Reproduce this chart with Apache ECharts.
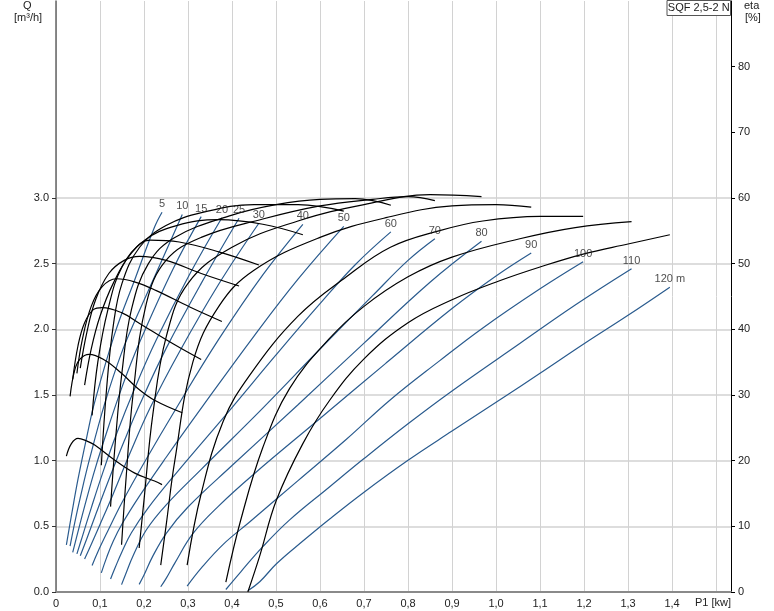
<!DOCTYPE html>
<html><head><meta charset="utf-8">
<script src="https://cdn.jsdelivr.net/npm/echarts@6/dist/echarts.min.js"></script>
<style>html,body{margin:0;padding:0;background:#fff}#c{width:774px;height:611px}</style>
</head><body><div id="c"></div>
<script>
// Heads (m) and their labels
const HEADS = [5,10,15,20,25,30,40,50,60,70,80,90,100,110,120];
const HEAD_LABELS = ['5','10','15','20','25','30','40','50','60','70','80','90','100','110','120 m'];

// Flow Q [m3/h] vs P1 [kW] for each head (blue curves)
const Q_5   = [[0.0236,0.359],[0.035,0.581],[0.05,0.859],[0.07,1.182],[0.088,1.447],[0.133,1.962],[0.179,2.378],[0.224,2.779],[0.241,2.892]];
const Q_10  = [[0.032,0.350],[0.0425,0.527],[0.055,0.717],[0.075,0.996],[0.111,1.438],[0.149,1.821],[0.186,2.116],[0.224,2.400],[0.287,2.875]];
const Q_15  = [[0.038,0.301],[0.05,0.459],[0.065,0.652],[0.085,0.894],[0.105,1.112],[0.15,1.560],[0.19,1.901],[0.266,2.460],[0.33,2.858]];
const Q_20  = [[0.0475,0.290],[0.06,0.424],[0.08,0.639],[0.105,0.896],[0.137,1.199],[0.18,1.559],[0.228,1.920],[0.304,2.421],[0.377,2.850]];
const Q_25  = [[0.0552,0.276],[0.07,0.406],[0.09,0.588],[0.12,0.854],[0.155,1.149],[0.19,1.425],[0.25,1.853],[0.33,2.350],[0.416,2.846]];
const Q_30  = [[0.065,0.251],[0.08,0.362],[0.1,0.514],[0.13,0.747],[0.17,1.071],[0.214,1.403],[0.28,1.826],[0.37,2.345],[0.461,2.808]];
const Q_40  = [[0.082,0.202],[0.095,0.305],[0.118,0.466],[0.15,0.681],[0.2,0.982],[0.274,1.403],[0.37,1.925],[0.47,2.415],[0.561,2.800]];
const Q_50  = [[0.103,0.146],[0.115,0.262],[0.13,0.387],[0.15,0.518],[0.19,0.732],[0.25,1.024],[0.333,1.413],[0.45,1.949],[0.55,2.382],[0.654,2.784]];
const Q_60  = [[0.124,0.099],[0.135,0.190],[0.15,0.307],[0.1714,0.451],[0.21,0.642],[0.27,0.892],[0.4,1.404],[0.5,1.805],[0.6,2.195],[0.68,2.492],[0.761,2.742]];
const Q_70  = [[0.149,0.056],[0.16,0.151],[0.175,0.275],[0.2055,0.474],[0.25,0.662],[0.33,0.934],[0.47,1.400],[0.6,1.850],[0.72,2.258],[0.8,2.525],[0.861,2.690]];
const Q_80  = [[0.189,0.058],[0.2,0.129],[0.22,0.273],[0.251,0.449],[0.3,0.647],[0.4,0.963],[0.55,1.426],[0.7,1.895],[0.85,2.359],[0.967,2.671]];
const Q_90  = [[0.238,0.040],[0.25,0.102],[0.27,0.220],[0.311,0.444],[0.37,0.656],[0.45,0.899],[0.6,1.321],[0.75,1.743],[0.9,2.158],[1.0,2.406],[1.08,2.581]];
const Q_100 = [[0.298,0.045],[0.33,0.182],[0.38,0.363],[0.44,0.533],[0.55,0.848],[0.66,1.163],[0.76,1.464],[0.87,1.756],[0.97,2.011],[1.1,2.309],[1.198,2.515]];
const Q_110 = [[0.386,0.019],[0.42,0.154],[0.47,0.345],[0.531,0.549],[0.62,0.796],[0.7,1.016],[0.8,1.281],[0.9,1.531],[1.054,1.892],[1.18,2.185],[1.308,2.461]];
const Q_120 = [[0.436,0.010],[0.463,0.078],[0.501,0.215],[0.561,0.388],[0.622,0.556],[0.7,0.760],[0.8,1.003],[0.9,1.225],[1.008,1.461],[1.1,1.665],[1.2,1.890],[1.3,2.107],[1.395,2.321]];

// Efficiency eta [%] vs P1 [kW] for each head (black curves)
const ETA_5   = [[0.0236,20.7],[0.035,22.6],[0.05,23.4],[0.07,23.0],[0.088,22.4],[0.133,20.1],[0.179,18.1],[0.224,16.9],[0.241,16.35]];
const ETA_10  = [[0.032,29.8],[0.0425,33.8],[0.055,35.5],[0.075,36.2],[0.111,35.3],[0.149,33.3],[0.186,31.0],[0.224,29.2],[0.287,27.3]];
const ETA_15  = [[0.038,32.4],[0.05,37.5],[0.065,41],[0.085,43],[0.105,43.3],[0.15,42.5],[0.19,40.9],[0.266,37.8],[0.33,35.4]];
const ETA_20  = [[0.0475,33.3],[0.06,38.5],[0.08,43.5],[0.105,46.5],[0.137,47.7],[0.18,47.2],[0.228,45.9],[0.304,43.4],[0.377,41.2]];
const ETA_25  = [[0.0552,34.1],[0.07,39.5],[0.09,44.5],[0.12,48.5],[0.155,50.5],[0.19,51.1],[0.25,50.5],[0.33,48.5],[0.416,46.6]];
const ETA_30  = [[0.065,31.5],[0.08,37],[0.1,42],[0.13,47],[0.17,51.5],[0.214,53.6],[0.28,53.3],[0.37,51.8],[0.461,49.8]];
const ETA_40  = [[0.082,26.9],[0.095,35],[0.118,43],[0.15,49.5],[0.2,53.5],[0.274,55.8],[0.37,56.7],[0.47,56.0],[0.561,54.4]];
const ETA_50  = [[0.103,19.3],[0.115,31],[0.13,40.5],[0.15,47],[0.19,52.5],[0.25,55.8],[0.333,57.8],[0.45,59.0],[0.55,59.0],[0.654,58.0]];
const ETA_60  = [[0.124,13],[0.135,23],[0.15,33.5],[0.1714,43],[0.21,50],[0.27,54],[0.4,57.4],[0.5,59.0],[0.6,59.8],[0.68,59.9],[0.761,58.9]];
const ETA_70  = [[0.149,7.2],[0.16,18],[0.175,30],[0.2055,44],[0.25,50.5],[0.33,54],[0.47,56.8],[0.6,58.8],[0.72,59.8],[0.8,60.2],[0.861,59.6]];
const ETA_80  = [[0.189,6.7],[0.2,14],[0.22,27],[0.251,39],[0.3,47],[0.4,52.5],[0.55,56.5],[0.7,59],[0.85,60.5],[0.967,60.2]];
const ETA_90  = [[0.238,4.1],[0.25,10],[0.27,20],[0.311,35],[0.37,43.5],[0.45,49],[0.6,54],[0.75,57],[0.9,58.8],[1.0,59],[1.08,58.6]];
const ETA_100 = [[0.298,4.1],[0.33,15],[0.38,26],[0.44,33],[0.55,42],[0.66,48],[0.76,52.5],[0.87,55],[0.97,56.5],[1.1,57.2],[1.198,57.2]];
const ETA_110 = [[0.386,1.5],[0.42,11],[0.47,22],[0.531,31],[0.62,38.5],[0.7,43.5],[0.8,48],[0.9,51],[1.054,53.8],[1.18,55.5],[1.308,56.4]];
const ETA_120 = [[0.436,0],[0.463,5.5],[0.501,14],[0.561,22.6],[0.622,29.2],[0.7,35.5],[0.8,41],[0.9,44.5],[1.008,47.4],[1.1,49.5],[1.2,51.5],[1.3,53],[1.395,54.4]];

// Tick labels
const X_TICKS = [0,0.1,0.2,0.3,0.4,0.5,0.6,0.7,0.8,0.9,1.0,1.1,1.2,1.3,1.4];
const Q_TICKS = [0,0.5,1.0,1.5,2.0,2.5,3.0];
const ETA_TICKS = [0,10,20,30,40,50,60,70,80];

const FLOW = [Q_5,Q_10,Q_15,Q_20,Q_25,Q_30,Q_40,Q_50,Q_60,Q_70,Q_80,Q_90,Q_100,Q_110,Q_120];
const EFF  = [ETA_5,ETA_10,ETA_15,ETA_20,ETA_25,ETA_30,ETA_40,ETA_50,ETA_60,ETA_70,ETA_80,ETA_90,ETA_100,ETA_110,ETA_120];

const FONT = 'Liberation Sans, Arial, sans-serif';
const BLUE = '#2a5b8e';
const series = [];
EFF.forEach((d,i)=>series.push({
  type:'line', name:'eta '+HEADS[i], yAxisIndex:1, data:d, smooth:0.4,
  showSymbol:false, symbol:'none', silent:true,
  lineStyle:{color:'#000', width:1.2}, z:3
}));
FLOW.forEach((d,i)=>series.push({
  type:'line', name:'Q '+HEADS[i], yAxisIndex:0, data:d, smooth:0.4,
  showSymbol:false, symbol:'none', silent:true,
  lineStyle:{color:BLUE, width:1.2}, z:2
}));
series.push({
  type:'scatter', yAxisIndex:0, silent:true, symbolSize:1,
  itemStyle:{color:'rgba(0,0,0,0)'},
  data: FLOW.map((d,i)=>({value:d[d.length-1], label:{formatter:HEAD_LABELS[i]}})),
  label:{show:true, position:'top', distance:2, color:'#222', fontSize:11, fontFamily:FONT},
  z:5
});

const chart = echarts.init(document.getElementById('c'), null, {renderer:'canvas'});
chart.setOption({
  animation:false,
  backgroundColor:'#fff',
  grid:{left:56, right:43, top:1, bottom:19, containLabel:false},
  xAxis:{type:'value', min:0, max:1.534, interval:0.1,
    axisLine:{show:true, lineStyle:{color:'#8a8a8a', width:2}},
    axisTick:{show:false},
    axisLabel:{customValues:X_TICKS, color:'#222', fontSize:11, fontFamily:FONT, margin:6,
      formatter:v=> v===0 ? '0' : v.toFixed(1).replace('.',',')},
    splitLine:{show:true, lineStyle:{color:'#d2d2d2', width:1}}
  },
  yAxis:[
    {type:'value', position:'left', min:0, max:4.5, interval:0.5,
      axisLine:{show:true, lineStyle:{color:'#666', width:1.5}},
      axisTick:{show:true, customValues:Q_TICKS, length:4, lineStyle:{color:'#333'}},
      axisLabel:{customValues:Q_TICKS, color:'#222', fontSize:11, fontFamily:FONT, margin:7,
        formatter:v=>v.toFixed(1)},
      splitLine:{show:true, lineStyle:{color:'#d2d2d2', width:1.5}}
    },
    {type:'value', position:'right', min:0, max:90, interval:10,
      axisLine:{show:true, lineStyle:{color:'#000', width:1}},
      axisTick:{show:true, customValues:ETA_TICKS, length:4, lineStyle:{color:'#000'}},
      axisLabel:{customValues:ETA_TICKS, color:'#222', fontSize:11, fontFamily:FONT, margin:7,
        formatter:v=>String(v)},
      splitLine:{show:false}
    }
  ],
  graphic:[
    {type:'text', left:23, top:0, style:{text:'Q', fontSize:11, fontFamily:FONT, fill:'#222'}},
    {type:'text', left:14, top:12, style:{text:'[m³/h]', fontSize:11, fontFamily:FONT, fill:'#222'}},
    {type:'text', left:744, top:0, style:{text:'eta', fontSize:11, fontFamily:FONT, fill:'#222'}},
    {type:'text', left:745, top:12, style:{text:'[%]', fontSize:11, fontFamily:FONT, fill:'#222'}},
    {type:'text', left:695, top:597, style:{text:'P1 [kw]', fontSize:11, fontFamily:FONT, fill:'#222'}},
    {type:'rect', shape:{x:667, y:0.5, width:63.5, height:15}, style:{fill:'#fff', stroke:'#555', lineWidth:1}, z:10},
    {type:'text', x:698.7, y:8, style:{text:'SQF 2,5-2 N', fontSize:11, fontFamily:FONT, fill:'#222', align:'center', verticalAlign:'middle'}, z:11}
  ],
  series
});
</script>
</body></html>
